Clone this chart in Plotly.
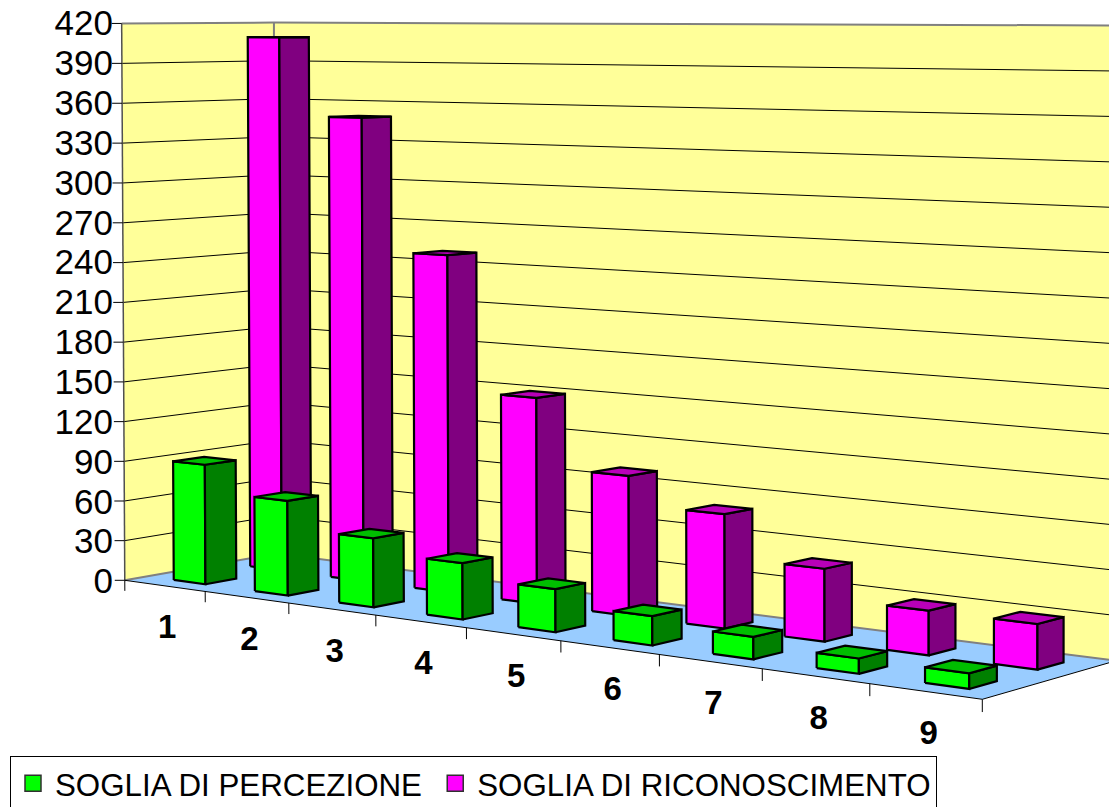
import numpy as np
import plotly.graph_objects as go

# Data
categories = ["1", "2", "3", "4", "5", "6", "7", "8", "9"]
soglia_percezione = [90, 70, 50, 40, 30, 20, 15, 10, 10]
soglia_riconoscimento = [410, 350, 250, 150, 100, 80, 50, 30, 30]
value_ticks = list(range(0, 421, 30))

WIDTH, HEIGHT = 1109, 807
N = len(categories)
VMAX = 420

# Value axis: 0 sits at pixel row 581 and 420 at row 23 along the front-left edge
ROW0, PX_PER_UNIT = 581.0, (581.0 - 23.0) / VMAX
LEFT = 100.0

# Perspective camera for the (category, depth, value) box, solved from its corners
corners = [
    ((0, 0, 0), (126, 581)),
    ((N, 0, 0), (982, 699)),
    ((0, 1, 0), (275, 553)),
    ((N, 1, 0), (1116.5, 661)),
    ((0, 0, VMAX), (120.7, 23)),
    ((0, 1, VMAX), (275, 23)),
    ((N, 1, VMAX), (1116.5, 25.5)),
]


def solve_camera(pairs):
    rows, rhs = [], []
    for (u, w, v), (x, y) in pairs:
        a, b, c = u / N, w, v / VMAX
        rows.append([a, b, c, 1, 0, 0, 0, 0, -x * a, -x * b, -x * c])
        rhs.append(x)
        rows.append([0, 0, 0, 0, a, b, c, 1, -y * a, -y * b, -y * c])
        rhs.append(y)
    sol = np.linalg.lstsq(np.array(rows, float), np.array(rhs, float), rcond=None)[0]
    return np.append(sol, 1.0).reshape(3, 4)


CAMERA = solve_camera(corners)


def project(u, w, v):
    """Map box coordinates to the x (pixel-like) and y (value) axes."""
    px, py, pw = CAMERA @ np.array([u / N, w, v / VMAX, 1.0])
    return px / pw, (ROW0 - py / pw) / PX_PER_UNIT


def path(points):
    xs, ys = [], []
    for p in points:
        x, y = project(*p)
        xs.append(x)
        ys.append(y)
    return xs, ys


def joined(paths):
    xs, ys = [], []
    for px, py in paths:
        xs += px + [None]
        ys += py + [None]
    return xs, ys


fig = go.Figure()


def add_poly(points, fill, line="rgba(0,0,0,0)", width=0):
    xs, ys = path(points)
    fig.add_trace(go.Scatter(x=xs, y=ys, mode="lines", fill="toself", fillcolor=fill,
                             line=dict(color=line, width=width), showlegend=False,
                             hoverinfo="skip"))


def add_lines(paths, color, width):
    xs, ys = joined(paths)
    fig.add_trace(go.Scatter(x=xs, y=ys, mode="lines", line=dict(color=color, width=width),
                             showlegend=False, hoverinfo="skip"))


WALL, FLOOR = "#FFFF99", "#99CCFF"

# Walls and floor
add_poly([(0, 0, 0), (0, 1, 0), (0, 1, VMAX), (0, 0, VMAX), (0, 0, 0)], WALL)
add_poly([(0, 1, 0), (N, 1, 0), (N, 1, VMAX), (0, 1, VMAX), (0, 1, 0)], WALL)
add_poly([(0, 0, 0), (N, 0, 0), (N, 1, 0), (0, 1, 0), (0, 0, 0)], FLOOR)

# Gridlines across both walls
add_lines([path([(0, 0, v), (0, 1, v), (N, 1, v)]) for v in value_ticks if 0 < v < VMAX],
          "#000000", 1)

# Wall edges
add_lines([path([(0, 0, VMAX), (0, 1, VMAX), (N, 1, VMAX)]),
           path([(0, 1, 0), (0, 1, VMAX)]),
           path([(0, 0, 0), (0, 1, 0), (N, 1, 0)])], "#808080", 2)
add_lines([path([(0, 0, 0), (0, 0, VMAX)])], "#505050", 1.5)

# Front and right floor edges with category ticks
add_lines([path([(0, 0, 0), (N, 0, 0), (N, 1, 0)])] +
          [path([(k, 0, 0), (k, 0, -8)]) for k in range(N + 1)], "#000000", 1)

# Value axis tick marks to the left of the wall
tick_x, tick_y = [], []
for v in value_ticks:
    x, y = project(0, 0, v)
    tick_x += [x - 10, x, None]
    tick_y += [y, y, None]
fig.add_trace(go.Scatter(x=tick_x, y=tick_y, mode="lines", line=dict(color="#000000", width=1),
                         showlegend=False, hoverinfo="skip"))

BAR_U = (0.28, 0.675)
BAR_SINK = 1.0  # bars sit very slightly into the floor plane


def add_series(values, depth, front, side, top):
    u0, u1 = BAR_U
    w0, w1 = depth
    faces = {front: [], side: [], top: []}
    for k, value in enumerate(values):
        b, v = -BAR_SINK, value - BAR_SINK
        faces[front].append(path([(k + u0, w0, b), (k + u1, w0, b), (k + u1, w0, v), (k + u0, w0, v), (k + u0, w0, b)]))
        faces[side].append(path([(k + u1, w0, b), (k + u1, w1, b), (k + u1, w1, v), (k + u1, w0, v), (k + u1, w0, b)]))
        faces[top].append(path([(k + u0, w0, v), (k + u1, w0, v), (k + u1, w1, v), (k + u0, w1, v), (k + u0, w0, v)]))
    for color, paths in faces.items():
        xs, ys = joined(paths)
        fig.add_trace(go.Scatter(x=xs, y=ys, mode="lines", fill="toself", fillcolor=color,
                                 line=dict(color="#000000", width=2.2), showlegend=False,
                                 hoverinfo="skip"))


# The far row is painted first so the near row covers it
add_series(soglia_riconoscimento, (0.672, 0.872), "#FF00FF", "#800080", "#B800B8")
add_series(soglia_percezione, (0.17, 0.37), "#00FF00", "#008000", "#00BE00")

# Category labels under the front edge
lab = [project(k + 0.53, 0, -(33 - 0.65 * k)) for k in range(N)]
fig.add_trace(go.Scatter(x=[p[0] for p in lab], y=[p[1] for p in lab], mode="text", text=categories,
                         textposition="middle center",
                         textfont=dict(family="Liberation Sans", size=33, color="#000000", weight="bold"),
                         showlegend=False, hoverinfo="skip"))

# Legend entries
for name, color in [("SOGLIA DI PERCEZIONE\u2009", "#00FF00"), ("SOGLIA DI RICONOSCIMENTO", "#FF00FF")]:
    fig.add_trace(go.Scatter(x=[None], y=[None], mode="markers", name=name,
                             marker=dict(symbol="square", size=16, color=color,
                                         line=dict(color="#303030", width=1.5))))

fig.update_layout(
    width=WIDTH, height=HEIGHT, margin=dict(l=0, r=0, t=0, b=0, pad=0, autoexpand=False),
    paper_bgcolor="#FFFFFF", plot_bgcolor="rgba(0,0,0,0)", hovermode=False,
    font=dict(family="Liberation Sans", color="#000000"),
    xaxis=dict(domain=[LEFT / WIDTH, 1], range=[LEFT, WIDTH], visible=False),
    yaxis=dict(domain=[0, 1],
               range=[(ROW0 - HEIGHT) / PX_PER_UNIT, ROW0 / PX_PER_UNIT],
               tickmode="array", tickvals=value_ticks, ticktext=[str(v) for v in value_ticks],
               showgrid=False, zeroline=False, showline=False, ticks="",
               tickfont=dict(family="Liberation Sans", size=35, color="#000000"),
               ticklabelstandoff=-14),
    legend=dict(orientation="h", x=10 / WIDTH, y=1 - 755.5 / HEIGHT, xanchor="left", yanchor="top",
                bgcolor="#FFFFFF", bordercolor="#000000", borderwidth=1, itemwidth=34,
                font=dict(family="Liberation Sans", size=31.3, color="#000000"),
                itemclick=False, itemdoubleclick=False),
    showlegend=True,
)

fig.write_html("out.html", config=dict(displayModeBar=False))
